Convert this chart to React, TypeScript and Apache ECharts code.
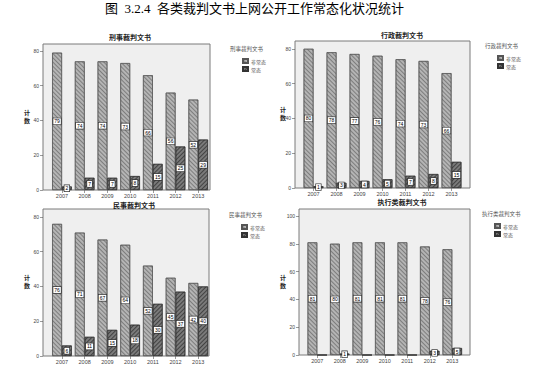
import React, { useEffect, useRef } from "react";
import * as echarts from "echarts";

const years = ["2007", "2008", "2009", "2010", "2011", "2012", "2013"];
const seriesNames = ["非常态", "常态"];
const panelTitles = ["刑事裁判文书", "行政裁判文书", "民事裁判文书", "执行类裁判文书"];
const xingshiNon = [79, 74, 74, 73, 66, 56, 52];
const xingshiNorm = [2, 7, 7, 8, 15, 25, 29];
const xingzhengNon = [80, 78, 77, 76, 74, 73, 66];
const xingzhengNorm = [1, 3, 4, 5, 7, 8, 15];
const minshiNon = [76, 71, 67, 64, 52, 45, 42];
const minshiNorm = [6, 11, 15, 18, 30, 37, 40];
const zhixingNon = [81, 80, 81, 81, 81, 78, 76];
const zhixingNorm = [0, 1, 0, 0, 0, 3, 5];
const ticks80 = [0, 20, 40, 60, 80];
const ticks100 = [0, 20, 40, 60, 80, 100];
const yAxisName = ["计", "数"];
const pageTitle = "图  3.2.4  各类裁判文书上网公开工作常态化状况统计";

const panelData = [
  { non: xingshiNon, norm: xingshiNorm, ticks: ticks80 },
  { non: xingzhengNon, norm: xingzhengNorm, ticks: ticks80 },
  { non: minshiNon, norm: minshiNorm, ticks: ticks80 },
  { non: zhixingNon, norm: zhixingNorm, ticks: ticks100 },
];

const layout = [
  { fL: 43, fT: 44, fR: 210, fB: 190, gL: 50.6, gW: 159, yMax: 84, tX: 130, tY: 33, lgX: 230, lgY: 46, yl: 24 },
  { fL: 295, fT: 41, fR: 470, fB: 188, gL: 302, gW: 161, yMax: 84.5, tX: 402, tY: 31, lgX: 485, lgY: 43, yl: 280 },
  { fL: 43, fT: 209, fR: 209, fB: 356, gL: 50.6, gW: 159, yMax: 84.6, tX: 134, tY: 201, lgX: 229, lgY: 212, yl: 24 },
  { fL: 299, fT: 209, fR: 470, fB: 355, gL: 306, gW: 157.5, yMax: 105, tX: 402, tY: 198, lgX: 482, lgY: 211, yl: 280 },
];

const nonStyle = {
  color: "#b4b4b4",
  borderColor: "#555",
  borderWidth: 0.6,
  decal: {
    symbol: "rect",
    symbolSize: 1,
    dashArrayX: [1, 0],
    dashArrayY: [1, 1.2],
    rotation: Math.PI / 4,
    color: "rgba(80,80,80,0.55)",
  },
};
const normStyle = {
  color: "#7a7a7a",
  borderColor: "#333",
  borderWidth: 0.6,
  decal: {
    symbol: "rect",
    symbolSize: 1,
    dashArrayX: [1, 0],
    dashArrayY: [1, 1.2],
    rotation: -Math.PI / 4,
    color: "rgba(30,30,30,0.6)",
  },
};

const labelStyle = {
  show: true,
  position: "inside",
  fontSize: 5,
  color: "#000",
  backgroundColor: "#fff",
  borderColor: "#333",
  borderWidth: 0.7,
  padding: [1, 1, 0, 1],
  fontFamily: "Arial, 'Liberation Sans', sans-serif",
};

export default function App() {
  const ref = useRef<HTMLDivElement>(null);
  useEffect(() => {
    if (!ref.current) return;
    const chart = echarts.init(ref.current, undefined, { renderer: "svg" });
    const grids: any[] = [];
    const xAxes: any[] = [];
    const yAxes: any[] = [];
    const series: any[] = [];
    const titles: any[] = [];
    const legends: any[] = [];
    const graphics: any[] = [];

    titles.push({
      text: pageTitle,
      left: 100,
      top: -3,
      textStyle: {
        fontSize: 13,
        fontWeight: "normal",
        color: "#000",
        fontFamily: "'Liberation Serif', 'Noto Sans CJK SC', serif",
      },
    });

    layout.forEach((L, i) => {
      const P = panelData[i];
      grids.push({
        left: L.gL,
        top: L.fT,
        width: L.gW,
        height: L.fB - L.fT,
        containLabel: false,
      });
      xAxes.push({
        type: "category",
        gridIndex: i,
        data: years,
        axisLine: { show: false },
        axisTick: { show: true, alignWithLabel: true, length: 3, lineStyle: { color: "#555", width: 0.6 } },
        axisLabel: { fontSize: 5.5, color: "#444", margin: 3, fontFamily: "Arial, 'Liberation Sans', sans-serif" },
      });
      yAxes.push({
        type: "value",
        gridIndex: i,
        min: 0,
        max: L.yMax,
        interval: 20,
        offset: L.gL - L.fL,
        splitLine: { show: false },
        axisLine: { show: false },
        axisTick: { show: true, length: 3, customValues: P.ticks, lineStyle: { color: "#555", width: 0.6 } },
        axisLabel: {
          fontSize: 5,
          color: "#444",
          margin: 4,
          customValues: P.ticks,
          fontFamily: "Arial, 'Liberation Sans', sans-serif",
        },
      });
      const mk = (arr: number[]) =>
        arr.map((v) => (v === 0 ? { value: 0, label: { show: false } } : v));
      series.push({
        type: "bar",
        name: seriesNames[0],
        xAxisIndex: i,
        yAxisIndex: i,
        data: mk(P.non),
        barWidth: "43%",
        barGap: "0%",
        itemStyle: nonStyle,
        label: labelStyle,
      });
      series.push({
        type: "bar",
        name: seriesNames[1],
        xAxisIndex: i,
        yAxisIndex: i,
        data: mk(P.norm),
        barWidth: "43%",
        barGap: "0%",
        itemStyle: normStyle,
        label: labelStyle,
      });
      graphics.push({
        type: "rect",
        z: -10,
        shape: { x: L.fL, y: L.fT, width: L.fR - L.fL, height: L.fB - L.fT },
        style: { fill: "#efefef", stroke: "#7a7a7a", lineWidth: 1 },
      });
      graphics.push({
        type: "text",
        x: L.tX,
        y: L.tY,
        style: {
          text: panelTitles[i],
          fontSize: 7,
          fontWeight: "bold",
          fill: "#222",
          align: "center",
          fontFamily: "'Noto Sans CJK SC', sans-serif",
        },
      });
      graphics.push({
        type: "text",
        x: L.lgX,
        y: L.lgY,
        style: {
          text: panelTitles[i],
          fontSize: 5.5,
          fill: "#555",
          fontFamily: "'Noto Sans CJK SC', sans-serif",
        },
      });
      yAxisName.forEach((ch, k) => {
        graphics.push({
          type: "text",
          x: L.yl,
          y: (L.fT + L.fB) / 2 - 8 + k * 8,
          style: {
            text: ch,
            fontSize: 6,
            fontWeight: "bold",
            fill: "#222",
            fontFamily: "'Noto Sans CJK SC', sans-serif",
          },
        });
      });
      legends.push({
        left: L.lgX + 7,
        top: L.lgY + 7,
        orient: "vertical",
        itemWidth: 5,
        itemHeight: 4,
        itemGap: 2,
        icon: "rect",
        data: seriesNames,
        textStyle: { fontSize: 5, color: "#555", padding: [0, 0, 0, -2], fontFamily: "'Noto Sans CJK SC', sans-serif" },
      });
    });

    chart.setOption({
      animation: false,
      backgroundColor: "#fff",
      title: titles,
      grid: grids,
      xAxis: xAxes,
      yAxis: yAxes,
      series,
      legend: legends,
      graphic: graphics,
    });
    return () => chart.dispose();
  }, []);
  return (
    <div
      ref={ref}
      style={{ position: "fixed", left: 0, top: 0, width: 552, height: 367 }}
    />
  );
}
